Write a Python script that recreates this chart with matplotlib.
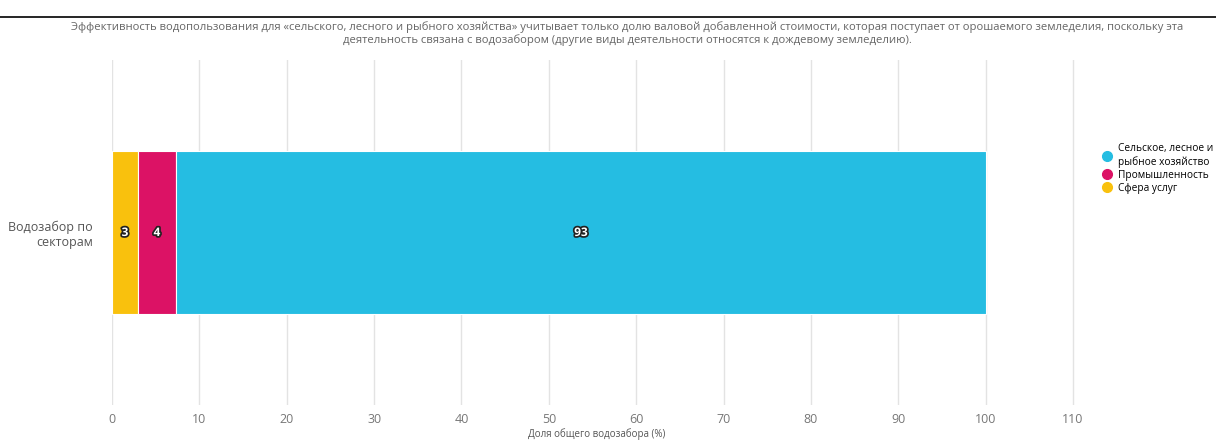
import matplotlib
matplotlib.use("Agg")
import matplotlib.pyplot as plt
import matplotlib.patheffects as pe
from matplotlib.lines import Line2D

categories = ["Водозабор по\nсекторам"]
series_names = ["Сфера услуг", "Промышленность", "Сельское, лесное и\nрыбное хозяйство"]
series_values = [2.96, 4.37, 92.67]
series_colors = ["#f9c10d", "#dc1265", "#25bde2"]
x_ticks = [0, 10, 20, 30, 40, 50, 60, 70, 80, 90, 100, 110]
title = ("Эффективность водопользования для «сельского, лесного и рыбного хозяйства» учитывает только долю валовой добавленной стоимости, которая поступает от орошаемого земледелия, поскольку эта\n"
         "деятельность связана с водозабором (другие виды деятельности относятся к дождевому земледелию).")
xlabel = "Доля общего водозабора (%)"

plt.rcParams['font.family'] = ['Open Sans', 'DejaVu Sans']

fig = plt.figure(figsize=(12.16, 4.41), dpi=100)
x0, x110 = 112, 1073
ppu = (x110 - x0) / 110
xmax = 111
ax = fig.add_axes([x0/1216, 1-405/441, ppu*xmax/1216, (405-60)/441])

left = 0
for name, val, col in zip(series_names, series_values, series_colors):
    ax.barh(0, val, left=left, height=0.475, color=col, edgecolor="white", linewidth=0.8, zorder=3)
    t = ax.text(left + val/2, 0, f"{round(val)}", ha="center", va="center", fontsize=8.5,
                fontweight="bold", color="white", zorder=4)
    t.set_path_effects([pe.withStroke(linewidth=2.5, foreground="#222222")])
    left += val

ax.set_xlim(0, xmax)
ax.set_ylim(-0.5, 0.5)
ax.set_xticks(x_ticks)
ax.set_xticklabels([str(v) for v in x_ticks], fontsize=9, color="#777777")
ax.tick_params(axis='x', length=0, pad=6)
ax.set_yticks([0])
ax.set_yticklabels(categories, fontsize=9, color="#555555")
ax.tick_params(axis='y', length=0, pad=14)
ax.grid(axis='x', color="#e3e3e3", linewidth=1, zorder=0)
for s in ax.spines.values():
    s.set_visible(False)
ax.set_xlabel(xlabel, fontsize=7, color="#555555", labelpad=1)

fig.text(627/1216, 1-34/441, title, ha="center", va="center", fontsize=8.1, color="#666666", linespacing=1.15)
fig.add_artist(Line2D([0, 1], [1-17/441, 1-17/441], color="black", linewidth=1.2))

handles = [Line2D([], [], marker='o', linestyle='', markersize=7, color=c) for c in series_colors[::-1]]
fig.legend(handles, series_names[::-1], loc="upper left", bbox_to_anchor=(1092/1216, 1-134/441),
           frameon=False, fontsize=7.3, handletextpad=0.45, labelspacing=0.2, handlelength=1.2)

fig.savefig("out.png", dpi=100)
